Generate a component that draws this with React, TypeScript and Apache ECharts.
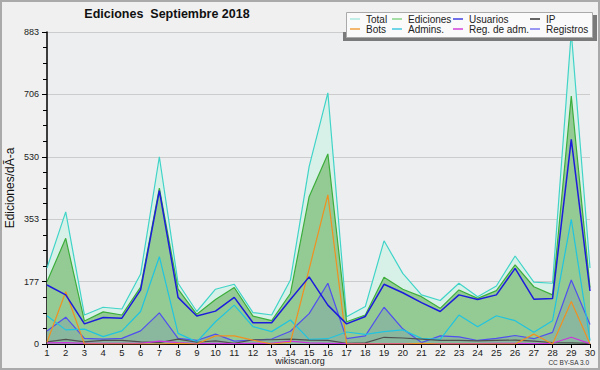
import React, { useEffect, useRef } from "react";
import * as echarts from "echarts";

const days = ["1","2","3","4","5","6","7","8","9","10","11","12","13","14","15","16","17","18","19","20","21","22","23","24","25","26","27","28","29","30"];
const yMax = 883;
const total = [215,374,82,104,99,198,530,172,92,155,169,89,82,181,502,711,77,106,292,200,139,123,172,134,164,249,175,172,883,215];
const ediciones = [176,299,65,91,82,161,441,155,84,126,160,79,66,143,417,538,63,82,189,155,134,101,153,129,151,224,162,139,702,160];
const usuarios = [167,139,57,75,73,153,434,132,79,93,132,60,60,126,190,110,57,78,169,145,117,92,139,126,139,214,127,129,579,150];
const ip = [6,13,6,10,10,6,4,14,5,9,2,12,12,14,11,10,2,3,19,17,14,10,10,9,10,11,8,4,3,2];
const bots = [5,148,0,0,0,0,0,2,0,23,23,11,0,5,212,422,0,0,0,0,2,0,0,0,0,0,28,0,120,0];
const admins = [80,40,42,21,37,92,247,30,6,63,110,49,35,68,13,15,34,27,35,40,16,13,82,49,80,66,33,66,353,10];
const regAdm = [3,4,2,2,2,2,8,4,1,2,1,2,2,8,3,2,1,1,1,1,1,1,1,1,2,2,1,2,19,1];
const registros = [37,76,16,14,16,37,88,16,10,28,8,11,14,36,86,172,15,23,104,43,4,23,20,10,16,24,15,33,181,55];

const legendCols = [
  ["Total", "Bots"],
  ["Ediciones", "Admins."],
  ["Usuarios", "Reg. de adm."],
  ["IP", "Registros"],
];
const legendColors: Record<string, string> = {
  "Total": "#aee8e0",
  "Ediciones": "#88d488",
  "Usuarios": "#4040e0",
  "IP": "#333333",
  "Bots": "#f0a040",
  "Admins.": "#40c8e0",
  "Reg. de adm.": "#d040d8",
  "Registros": "#7878f0",
};

const FONT = "Liberation Sans";

export default function App() {
  const ref = useRef<HTMLDivElement>(null);
  useEffect(() => {
    const chart = echarts.init(ref.current!, null, { renderer: "svg" });
    const line = (name: string, data: number[], color: string, width: number, area?: string) => ({
      type: "line",
      name,
      data,
      symbol: "none",
      silent: true,
      lineStyle: { color, width },
      itemStyle: { color },
      areaStyle: area ? { color: area, opacity: 1 } : undefined,
    });
    const legendLefts = [350, 392, 453, 530];
    chart.setOption({
      animation: false,
      backgroundColor: "#f0f0f0",
      grid: {
        left: 47,
        right: 10,
        top: 32,
        bottom: 26,
        show: true,
        backgroundColor: "#eceef0",
        borderWidth: 0,
      },
      xAxis: {
        type: "category",
        data: days,
        boundaryGap: false,
        axisLine: { lineStyle: { color: "#000", width: 1 } },
        axisTick: { show: true, length: 4, interval: 0, lineStyle: { color: "#000" } },
        axisLabel: { interval: 0, margin: 3, color: "#222", fontSize: 9.5, fontFamily: FONT },
        splitLine: { show: false },
      },
      yAxis: {
        type: "value",
        min: 0,
        max: yMax,
        interval: yMax / 5,
        axisLine: { show: true, lineStyle: { color: "#000", width: 1.5 } },
        axisTick: { show: true, length: 5, lineStyle: { color: "#000" } },
        minorTick: { show: true, splitNumber: 4, length: 4, lineStyle: { color: "#000" } },
        axisLabel: {
          margin: 8,
          color: "#222",
          fontSize: 9,
          fontFamily: FONT,
          formatter: (v: number) => String(Math.round(v)),
        },
        splitLine: { show: true, lineStyle: { color: "#cccccc", width: 1 } },
      },
      legend: legendCols.map((col, i) => ({
        orient: "vertical",
        left: legendLefts[i],
        top: 14,
        itemGap: 0,
        itemWidth: 10,
        itemHeight: 1.5,
        icon: "rect",
        selectedMode: false,
        padding: 0,
        z: 10,
        textStyle: { fontSize: 10, lineHeight: 10, fontFamily: FONT, color: "#222", padding: [0, 0, 0, 1] },
        data: col.map((n) => ({ name: n, itemStyle: { color: legendColors[n] } })),
      })),
      graphic: [
        { type: "rect", z: 8, shape: { x: 343, y: 32, width: 254, height: 9 }, style: { fill: "#7a7a7a" } },
        { type: "rect", z: 8, shape: { x: 593, y: 15, width: 4, height: 26 }, style: { fill: "#7a7a7a" } },
        { type: "rect", z: 9, shape: { x: 346.5, y: 12.5, width: 246, height: 25 }, style: { fill: "#fafafa", stroke: "#aaaaaa", lineWidth: 1 } },
        {
          type: "text", z: 10, x: 167, y: 14,
          style: { text: "Ediciones  Septiembre 2018", textAlign: "center", textVerticalAlign: "middle", font: `bold 12.5px "${FONT}"`, fill: "#111" },
        },
        {
          type: "text", z: 10, x: 10, y: 188, rotation: Math.PI / 2,
          style: { text: "Ediciones/dÃ-a", textAlign: "center", textVerticalAlign: "middle", font: `12px "${FONT}"`, fill: "#111" },
        },
        {
          type: "text", z: 10, x: 300, y: 361,
          style: { text: "wikiscan.org", textAlign: "center", textVerticalAlign: "middle", font: `9px "${FONT}"`, fill: "#222" },
        },
        {
          type: "text", z: 10, x: 589, y: 362,
          style: { text: "CC BY-SA 3.0", textAlign: "right", textVerticalAlign: "middle", font: `6.5px "${FONT}"`, fill: "#333" },
        },
        { type: "rect", z: 11, shape: { x: 1, y: 1, width: 598, height: 368 }, style: { fill: "none", stroke: "#aaaaaa", lineWidth: 2 } },
      ],
      series: [
        line("Total", total, "#40d4c8", 1.2, "#d8f1e8"),
        line("Ediciones", ediciones, "#3cae3c", 1.2, "#94ca94"),
        line("Registros", registros, "#5050ee", 1.2, "rgba(80,80,220,0.15)"),
        line("Admins.", admins, "#20c4e0", 1.2),
        line("IP", ip, "#505050", 1.2),
        line("Reg. de adm.", regAdm, "#cc33dd", 1.2),
        line("Bots", bots, "#f09020", 1.2),
        line("Usuarios", usuarios, "#1c1cdc", 1.5),
      ],
    });
    return () => chart.dispose();
  }, []);
  return <div ref={ref} style={{ position: "fixed", left: 0, top: 0, width: 600, height: 370 }} />;
}
